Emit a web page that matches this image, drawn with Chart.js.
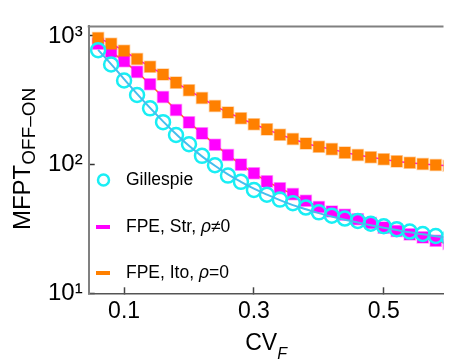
<!DOCTYPE html>
<html>
<head>
<meta charset="utf-8">
<script src="https://cdn.jsdelivr.net/npm/chart.js@4"></script>
<style>
html,body{margin:0;padding:0;background:#fff}
#wrap{width:453px;height:359px;position:relative}
</style>
</head>
<body>
<div id="wrap"><canvas id="myChart"></canvas></div>
<script>
// values
const cvF = [0.06,0.08,0.10,0.12,0.14,0.16,0.18,0.20,0.22,0.24,0.26,0.28,0.30,0.32,
             0.34,0.36,0.38,0.40,0.42,0.44,0.46,0.48,0.50,0.52,0.54,0.56,0.58,0.60];
const gillespie = [776,600,451,348,274,214,170,144,117,98.9,82.2,73.5,63.5,58.3,
                   53.5,50.2,46.4,42.6,40.1,38.1,36.5,34.7,33.2,31.5,30.2,28.9,27.9,27.0];
const gillespieLine = [780,605,462,355,276,217,173,140,116,98,84,73.5,65,58.5,
                       53,48.5,45,42,39.5,37.3,35.5,33.8,32.3,31,29.8,28.8,27.8,27.0];
const fpeStr = [870,755,635,526,421,335,266,213,175,143,119,100,85.7,74.1,
                65.5,59,52.5,46.8,43.3,40.8,37.7,35.2,32.4,30.5,28.7,27.2,25.6,24.2];
const fpeIto = [966,871,767,662,577,502,434,378,329,286,254,229,206,188,
                171,158,146,138,132,124,119,114,110,106,103.5,101,99.3,98];
const xTicks = [0.1,0.3,0.5];
const xTickLabels = ['0.1','0.3','0.5'];
const yTicks = [10,100,1000];
const yTickLabels = ['10\u00B9','10\u00B2','10\u00B3'];
const legendNames = [['Gillespie'], ['FPE, Str, ','\u03C1','\u22600'], ['FPE, Ito, ','\u03C1','=0']];

const FONT = '"Liberation Sans", Arial, sans-serif';
Chart.defaults.font.family = FONT;
Chart.defaults.color = '#000';

function pts(ys){ return cvF.map((x,i)=>({x:x,y:ys[i]})); }

const extras = {
  id:'extras',
  afterDraw(chart){
    const ctx = chart.ctx, a = chart.chartArea;
    ctx.save();
    // top frame line
    ctx.strokeStyle = '#808080'; ctx.lineWidth = 2;
    ctx.beginPath(); ctx.moveTo(a.left-1, a.top); ctx.lineTo(a.right, a.top); ctx.stroke();

    ctx.fillStyle = '#000';
    ctx.textBaseline = 'alphabetic';
    // x title  CV_F
    ctx.font = '23px ' + FONT;
    const w1 = ctx.measureText('CV').width;
    ctx.font = 'italic 16px ' + FONT;
    const w2 = ctx.measureText('F').width;
    let x0 = (a.left + a.right)/2 - (w1+w2)/2;
    ctx.font = '23px ' + FONT;
    ctx.fillText('CV', x0, 350);
    ctx.font = 'italic 16px ' + FONT;
    ctx.fillText('F', x0 + w1, 359);

    // y title  MFPT_OFF–ON
    ctx.font = '24px ' + FONT;
    const m1 = ctx.measureText('MFPT').width;
    ctx.font = '19px ' + FONT;
    const m2 = ctx.measureText('OFF\u2013ON').width;
    ctx.translate(30, (a.top + a.bottom)/2 - 1);
    ctx.rotate(-Math.PI/2);
    const u0 = -(m1+m2)/2;
    ctx.font = '24px ' + FONT;
    ctx.fillText('MFPT', u0, 0);
    ctx.font = '19px ' + FONT;
    ctx.fillText('OFF\u2013ON', u0 + m1, 5);
    ctx.restore();

    // legend
    ctx.save();
    const ds = chart.data.datasets;
    const rows = [180, 227, 273];
    const order = [1, 2, 3];
    ctx.textBaseline = 'middle';
    rows.forEach((y, k) => {
      const d = ds[order[k]];
      if (k === 0) {
        ctx.strokeStyle = d.pointBorderColor; ctx.lineWidth = 2.5;
        ctx.beginPath(); ctx.arc(103.5, y, 5.5, 0, Math.PI*2); ctx.stroke();
      } else {
        ctx.fillStyle = d.pointBackgroundColor;
        ctx.fillRect(96, y-2, 14, 4);
      }
      ctx.fillStyle = '#000';
      let tx = 126;
      legendNames[k].forEach((s, j) => {
        ctx.font = (j === 1 ? 'italic ' : '') + '17.5px ' + FONT;
        ctx.fillText(s, tx, y);
        tx += ctx.measureText(s).width;
      });
    });
    ctx.restore();
  }
};

const ctx = document.getElementById('myChart');
const myChart = new Chart(ctx, {
  type: 'line',
  data: {
    datasets: [{
      label: 'line',
      data: pts(gillespieLine),
      borderColor: '#45BEEE',
      borderWidth: 2,
      pointRadius: 0,
      tension: 0.4,
      order: 0
    }, {
      label: 'Gillespie',
      data: pts(gillespie),
      showLine: false,
      pointStyle: 'circle',
      pointRadius: 7,
      pointBorderWidth: 2.5,
      pointBorderColor: '#19EEF4',
      pointBackgroundColor: 'rgba(0,0,0,0)',
      order: 1
    }, {
      label: 'FPE, Str',
      data: pts(fpeStr),
      borderColor: '#FF8000',
      borderWidth: 1.5,
      pointStyle: 'rect',
      pointRadius: 7.8,
      pointBorderWidth: 1.5,
      pointBorderColor: 'rgba(255,0,255,0.35)',
      pointBackgroundColor: '#FF00FF',
      order: 3
    }, {
      label: 'FPE, Ito',
      data: pts(fpeIto),
      borderColor: '#FF00FF',
      borderWidth: 1.5,
      pointStyle: 'rect',
      pointRadius: 7.8,
      pointBorderWidth: 1.5,
      pointBorderColor: 'rgba(255,128,0,0.35)',
      pointBackgroundColor: '#FF8000',
      order: 2
    }]
  },
  options: {
    responsive: true,
    maintainAspectRatio: false,
    devicePixelRatio: 1,
    animation: false,
    layout: { padding: { top: 15.3, left: 0, right: 0, bottom: 0 } },
    plugins: { legend: { display: false }, tooltip: { enabled: false } },
    scales: {
      x: {
        type: 'linear',
        min: 0.0455,
        max: 0.592,
        afterFit: s => { s.height = 65.7; },
        afterBuildTicks: s => { s.ticks = xTicks.map(v => ({ value: v })); },
        ticks: {
          padding: 11,
          font: { size: 23 },
          maxRotation: 0,
          callback: (v) => xTickLabels[xTicks.indexOf(v)]
        },
        grid: { drawOnChartArea: false, drawTicks: true, tickLength: -6, tickColor: '#444', tickWidth: 1.5 },
        border: { color: '#555', width: 1.5 }
      },
      y: {
        type: 'logarithmic',
        min: 10,
        max: 1187,
        afterFit: s => { s.width = 88.7; },
        afterBuildTicks: s => { s.ticks = yTicks.map(v => ({ value: v })); },
        ticks: {
          padding: 12,
          font: { size: 24 },
          callback: (v) => yTickLabels[yTicks.indexOf(v)]
        },
        grid: { drawOnChartArea: false, drawTicks: true, tickLength: -6, tickColor: '#333', tickWidth: 1.5 },
        border: { color: '#808080', width: 2 }
      }
    }
  },
  plugins: [extras]
});
</script>
</body>
</html>
